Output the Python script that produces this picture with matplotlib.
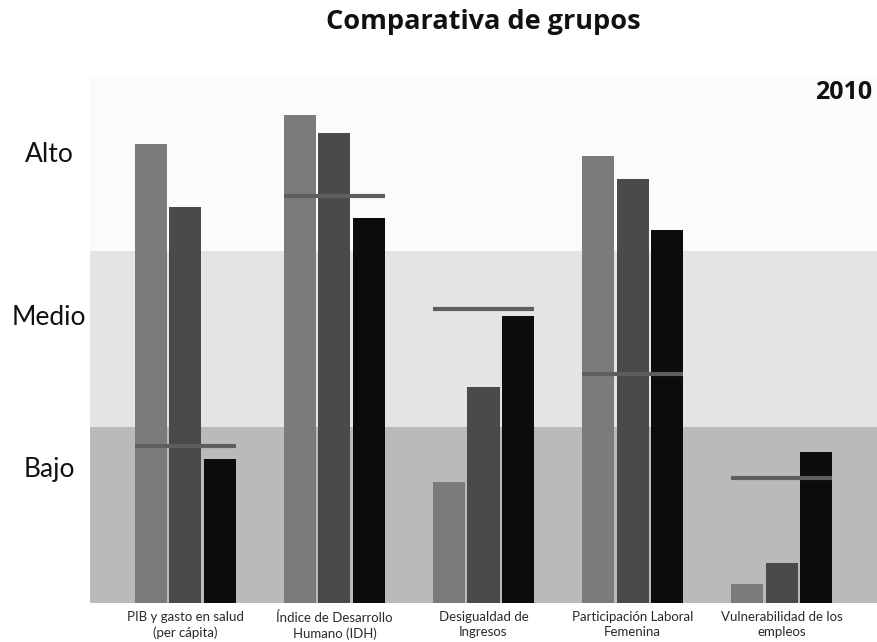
import numpy as np
import matplotlib
matplotlib.use("Agg")
import matplotlib.pyplot as plt

# ==========================================
# DATA (levels: 0-1 Bajo, 1-2 Medio, 2-3 Alto)
# ==========================================
categories = [
    "PIB y gasto en salud\n(per cápita)",
    "Índice de Desarrollo\nHumano (IDH)",
    "Desigualdad de\nIngresos",
    "Participación Laboral\nFemenina",
    "Vulnerabilidad de los\nempleos",
]
serie_a = [2.61, 2.77, 0.69, 2.54, 0.11]   # gris
serie_b = [2.25, 2.67, 1.23, 2.41, 0.23]   # gris oscuro
serie_c = [0.82, 2.19, 1.63, 2.12, 0.86]   # negro
referencia = [0.89, 2.31, 1.67, 1.30, 0.71]  # linea horizontal
niveles = ["Bajo", "Medio", "Alto"]
nivel_pos = [0.76, 1.62, 2.55]
anio = "2010"

plt.rcParams['font.family'] = ['Lato', 'DejaVu Sans']

fig = plt.figure(figsize=(8.77, 6.42), dpi=100)
W, H = 877, 642
ax = fig.add_axes([90 / W, 39 / H, 787 / W, 528 / H])

# background bands
ax.axhspan(0, 1, color='#bababa', zorder=0, lw=0)
ax.axhspan(1, 2, color='#e4e4e4', zorder=0, lw=0)
ax.axhspan(2, 3.2, color='#fbfbfb', zorder=0, lw=0)

x = np.arange(len(categories))
w = 0.215
off = 0.232
ax.bar(x - off, serie_a, w, color='#7b7b7b', zorder=2)
ax.bar(x, serie_b, w, color='#4a4a4a', zorder=2)
ax.bar(x + off, serie_c, w, color='#0c0c0c', zorder=2)

# reference markers
span = off + w / 2
ax.hlines(referencia, x - span, x + span, colors='#5e5e5e', linewidth=3.0, zorder=3)

ax.set_xlim(-0.64, 4.64)
ax.set_ylim(0, 3.0)
ax.set_xticks(x)
ax.set_xticklabels(categories, fontsize=9.5, color='#2a2a2a', linespacing=1.3)
ax.set_yticks([])
ax.tick_params(axis='x', length=0, pad=6)
for s in ax.spines.values():
    s.set_visible(False)

# level labels on the left
for lab, pos in zip(niveles, nivel_pos):
    ypx = 603 - pos * 176
    fig.text(49 / W, 1 - ypx / H, lab, ha='center', va='center', fontsize=19, color='#111111')

fig.text(483 / W, 1 - 29 / H, "Comparativa de grupos", ha='center', va='baseline',
         fontsize=19.5, fontweight='bold', color='#111111', family=['Open Sans', 'DejaVu Sans'])
fig.text(872 / W, 1 - 99 / H, anio, ha='right', va='baseline',
         fontsize=18, fontweight='bold', color='#111111', family=['Open Sans', 'DejaVu Sans'])

plt.savefig("out.png", dpi=100)
